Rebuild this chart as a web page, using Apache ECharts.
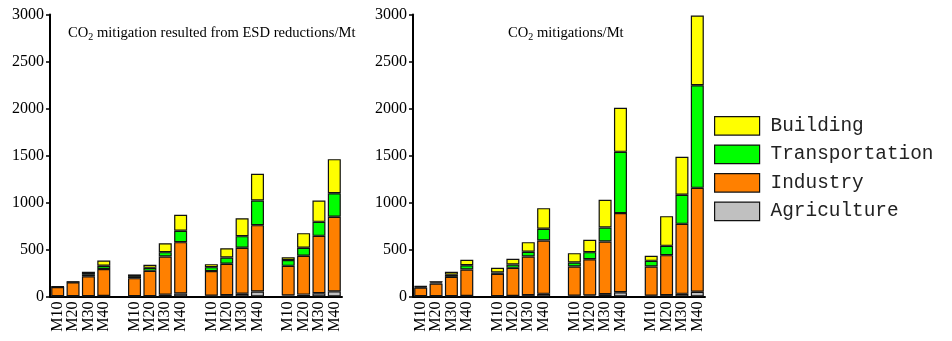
<!DOCTYPE html>
<html>
<head>
<meta charset="utf-8">
<script src="https://cdn.jsdelivr.net/npm/echarts@6/dist/echarts.min.js"></script>
<style>html,body{margin:0;padding:0;background:#fff}#c{width:952px;height:341px}</style>
</head>
<body>
<div id="c"></div>
<script>
// ---- data ----
const scenarios = ['M10','M20','M30','M40'];
const sectors = ['Agriculture','Industry','Transportation','Building'];
const legendOrder = ['Building','Transportation','Industry','Agriculture'];
const yTicks = [0,500,1000,1500,2000,2500,3000];

// Left panel: CO2 mitigation resulted from ESD reductions (4 groups x M10..M40)
const leftAgriculture    = [2,2,3,5,   2,3,18,32,   8,15,30,53,    10,20,35,55];
const leftIndustry       = [98,148,212,287, 193,270,407,546, 262,333,488,706, 316,413,610,793];
const leftTransportation = [4,4,22,35,  22,32,47,121,  42,67,124,262, 61,85,149,251];
const leftBuilding       = [3,2,26,55,  18,32,95,170,  32,99,191,284, 31,156,227,362];

// Right panel: CO2 mitigations
const rightAgriculture    = [2,2,3,5,   4,6,15,28,    8,12,25,45,     8,15,28,50];
const rightIndustry       = [93,136,206,282, 237,299,411,568, 311,385,560,842, 311,425,745,1106];
const rightTransportation = [10,12,22,46, 14,35,50,124, 43,75,149,652, 60,99,309,1092];
const rightBuilding       = [5,13,31,57, 50,61,102,220, 99,131,294,468, 54,316,404,742];

const colors = {Agriculture:'#C0C0C0', Industry:'#FF8000', Transportation:'#00FF00', Building:'#FFFF00'};

// build category axis with an empty slot between groups
const cats = [];
for (let g = 0; g < 4; g++) {
  scenarios.forEach(s => cats.push(s));
  if (g < 3) cats.push('');
}
function expand(arr) {
  const out = [];
  for (let g = 0; g < 4; g++) {
    for (let i = 0; i < 4; i++) out.push(arr[g*4+i]);
    if (g < 3) out.push(null);
  }
  return out;
}

const serif = 'Liberation Serif';
function yAxis(idx) {
  return {
    type:'value', gridIndex: idx, min:yTicks[0], max:yTicks[yTicks.length-1], interval:yTicks[1]-yTicks[0],
    axisLine:{show:true, lineStyle:{color:'#000', width:2}},
    axisTick:{show:true, inside:false, length:4, lineStyle:{color:'#000', width:1.5}},
    splitLine:{show:false},
    axisLabel:{color:'#000', fontFamily:serif, fontSize:16, margin:6, formatter: v => String(v)}
  };
}
function xAxis(idx) {
  return {
    type:'category', gridIndex: idx, data: cats,
    axisLine:{show:true, lineStyle:{color:'#000', width:2}},
    axisTick:{show:false},
    axisLabel:{interval:0, rotate:90, color:'#000', fontFamily:serif, fontSize:16, margin:5}
  };
}
const leftData = {Agriculture:leftAgriculture, Industry:leftIndustry, Transportation:leftTransportation, Building:leftBuilding};
const rightData = {Agriculture:rightAgriculture, Industry:rightIndustry, Transportation:rightTransportation, Building:rightBuilding};
const series = [];
[[leftData,0,'L'],[rightData,1,'R']].forEach(([d, idx, st]) => {
  sectors.forEach(s => {
    series.push({
      name: s, type:'bar', stack: st, xAxisIndex: idx, yAxisIndex: idx,
      data: expand(d[s]), barWidth: 13,
      itemStyle:{color: colors[s], borderColor:'#111', borderWidth:1.2},
      emphasis:{disabled:true}
    });
  });
});

const richStyle = {
  a:{fontFamily:serif, fontSize:14.6, fontWeight:'normal', color:'#000'},
  s:{fontFamily:serif, fontSize:10, fontWeight:'normal', color:'#000', padding:[8,0,0,0]}
};
const chart = echarts.init(document.getElementById('c'), null, {renderer:'canvas'});
chart.setOption({
  animation:false,
  backgroundColor:'#fff',
  title:[
    {text:'{a|CO}{s|2}{a| mitigation resulted from ESD reductions/Mt}', left:63, top:19,
     textStyle:{fontWeight:'normal', rich:richStyle}},
    {text:'{a|CO}{s|2}{a| mitigations/Mt}', left:503, top:19,
     textStyle:{fontWeight:'normal', rich:richStyle}}
  ],
  legend:{
    data: legendOrder.map(n => ({name:n, icon:'rect'})), orient:'vertical', left:714, top:116, padding:0,
    itemWidth:45, itemHeight:18.5, itemGap:8.8, selectedMode:false,
    itemStyle:{borderColor:'#111', borderWidth:1.2},
    textStyle:{fontFamily:'Liberation Mono', fontSize:19.4, color:'#222', padding:[0,0,0,6]}
  },
  grid:[
    {left:50, top:14.5, width:292, height:282},
    {left:413, top:14.5, width:292, height:282}
  ],
  xAxis:[xAxis(0), xAxis(1)],
  yAxis:[yAxis(0), yAxis(1)],
  series: series
});
</script>
</body>
</html>
